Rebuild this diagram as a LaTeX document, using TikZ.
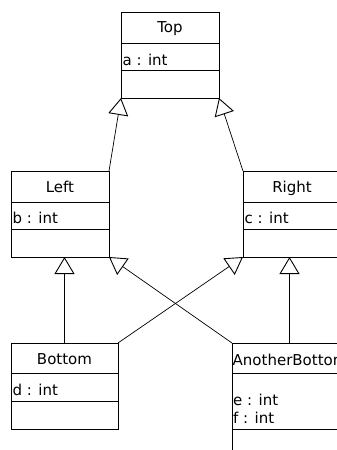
\documentclass[tikz,border=0pt]{standalone}
\usepackage{fontspec}
\setmainfont{DejaVu Sans}
\usetikzlibrary{arrows.meta}
\begin{document}
\begin{tikzpicture}[x=1pt,y=-1pt,
  classbox/.style={draw,line width=1pt,inner sep=0pt,outer sep=0pt,anchor=north west},
  title/.style={font=\fontsize{15}{17}\selectfont,anchor=base,inner sep=0pt},
  attr/.style={font=\fontsize{15}{17}\selectfont,anchor=base west,inner sep=0pt},
  sep/.style={line width=1pt},
  inh/.style={line width=0.7pt,-{Triangle[open,length=17pt,width=20pt,line width=0.9pt]}}]
\clip (0,0) rectangle (337,450);
\useasboundingbox (0,0) rectangle (337,450);
% Top
\node[classbox,minimum width=98pt,minimum height=86pt] (T) at (121,12) {};
\draw[sep] (T.west |- 0,43) -- (T.east |- 0,43);
\draw[sep] (T.west |- 0,70) -- (T.east |- 0,70);
\node[title] (Tt) at (170,32) {Top};
\node[attr] (Ta) at (122.5,65) {a : int};
% Left
\node[classbox,minimum width=98pt,minimum height=86pt] (L) at (11,171) {};
\draw[sep] (L.west |- 0,202) -- (L.east |- 0,202);
\draw[sep] (L.west |- 0,229) -- (L.east |- 0,229);
\node[title] (Lt) at (60,192) {Left};
\node[attr] (La) at (12.5,223) {b : int};
% Right
\node[classbox,minimum width=98pt,minimum height=86pt] (R) at (243,171) {};
\draw[sep] (R.west |- 0,202) -- (R.east |- 0,202);
\draw[sep] (R.west |- 0,229) -- (R.east |- 0,229);
\node[title] (Rt) at (292,192) {Right};
\node[attr] (Ra) at (244.5,223) {c : int};
% Bottom
\node[classbox,minimum width=107pt,minimum height=86pt] (B) at (11,343) {};
\draw[sep] (B.west |- 0,373) -- (B.east |- 0,373);
\draw[sep] (B.west |- 0,401) -- (B.east |- 0,401);
\node[title] (Bt) at (64.5,364) {Bottom};
\node[attr] (Ba) at (12.5,395) {d : int};
% AnotherBottom
\node[classbox,minimum width=115pt,minimum height=130pt] (A) at (232,343) {};
\draw[sep] (A.west |- 0,373) -- (A.east |- 0,373);
\draw[sep] (A.west |- 0,429) -- (A.east |- 0,429);
\node[attr] (At) at (232.5,365) {AnotherBottom};
\node[attr] (Ae) at (233,405) {e : int};
\node[attr] (Af) at (233,423) {f : int};
% inheritance
\draw[inh] (L.north east) -- (T.south west);
\draw[inh] (R.north west) -- (T.south east);
\draw[inh] (B.north) -- (B.north |- L.south);
\draw[inh] (A.north) -- (A.north |- R.south);
\draw[inh] (B.north east) -- (R.south west);
\draw[inh] (A.north west) -- (L.south east);
\end{tikzpicture}
\end{document}
